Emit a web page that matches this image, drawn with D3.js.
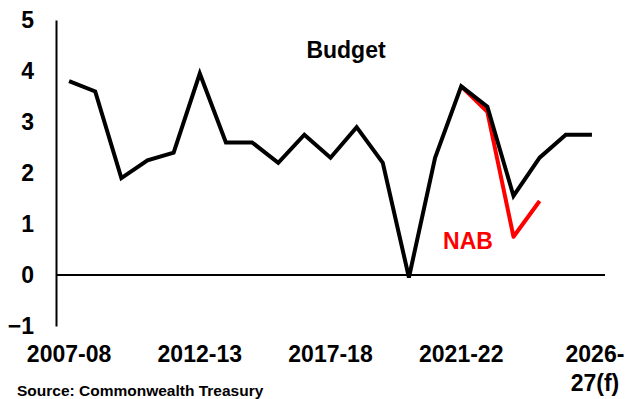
<!DOCTYPE html>
<html>
<head>
<meta charset="utf-8">
<script src="https://cdn.jsdelivr.net/npm/d3@7"></script>
<style>
  html, body { margin: 0; padding: 0; background: #fff; }
  svg { display: block; font-family: "Liberation Sans", Arial, sans-serif; font-weight: bold; }
</style>
</head>
<body>
<svg id="chart" width="631" height="399"></svg>
<script>
// financial years, one per point
var categories = ["2006-07", "2007-08", "2008-09", "2009-10", "2010-11", "2011-12", "2012-13",
    "2013-14", "2014-15", "2015-16", "2016-17", "2017-18", "2018-19", "2019-20", "2020-21",
    "2021-22", "2022-23", "2023-24", "2024-25", "2025-26", "2026-27"];

// real GDP growth, %
var budget = [3.8, 3.6, 1.9, 2.25, 2.4, 3.95, 2.6, 2.6, 2.2, 2.75, 2.3, 2.9, 2.2, -0.05, 2.3,
    3.7, 3.3, 1.55, 2.3, 2.75, 2.75];
var nab = [null, null, null, null, null, null, null, null, null, null, null, null, null, null, null,
    3.7, 3.2, 0.75, 1.45, null, null];

// axis labels as printed on the source chart (every 5th point)
var tickAt = ["2006-07", "2011-12", "2016-17", "2021-22", "2026-27"];
var tickLabels = ["2007-08", "2012-13", "2017-18", "2021-22", "2026-\n27(f)"];
var yTicks = [-1, 0, 1, 2, 3, 4, 5];

var svg = d3.select("#chart");

var x = d3.scaleBand().domain(categories).range([56, 605]);
var y = d3.scaleLinear().domain([-1, 5]).range([326, 20]);
var cx = function(d) { return x(d) + x.bandwidth() / 2; };

// y axis
var yAxis = svg.append("g")
    .attr("transform", "translate(56,0)")
    .call(d3.axisLeft(y).tickValues(yTicks).tickSize(0).tickPadding(22).tickFormat(d3.format("d")));
yAxis.select(".domain").attr("stroke", "#000").attr("stroke-width", 2);
yAxis.selectAll("text").attr("font-size", 23).attr("fill", "#000").attr("font-weight", "bold");

// zero line
svg.append("line")
    .attr("x1", 56).attr("x2", 605)
    .attr("y1", y(0)).attr("y2", y(0))
    .attr("stroke", "#000").attr("stroke-width", 2);

// x labels
var xAxis = svg.append("g")
    .attr("transform", "translate(0,346)")
    .call(d3.axisBottom(x).tickValues(tickAt).tickSize(0).tickPadding(0)
        .tickFormat(function(d) { return tickLabels[tickAt.indexOf(d)]; }));
xAxis.select(".domain").remove();
xAxis.selectAll("text")
    .attr("font-size", 23).attr("fill", "#000").attr("font-weight", "bold")
    .each(function(d) {
        var t = d3.select(this);
        var parts = t.text().split("\n");
        if (parts.length < 2) return;
        t.text(null);
        parts.forEach(function(p, i) {
            t.append("tspan").attr("x", 3).attr("dy", i === 0 ? "0.71em" : "1.24em").text(p);
        });
    });

var line = d3.line()
    .defined(function(d) { return d.v !== null; })
    .x(function(d) { return cx(d.c); })
    .y(function(d) { return y(d.v); });

var nabData = categories.map(function(c, i) { return { c: c, v: nab[i] }; });
var budgetData = categories.map(function(c, i) { return { c: c, v: budget[i] }; });

svg.append("path")
    .datum(nabData)
    .attr("d", line)
    .attr("fill", "none")
    .attr("stroke", "#ff0000")
    .attr("stroke-width", 4)
    .attr("stroke-linejoin", "round");

svg.append("path")
    .datum(budgetData)
    .attr("d", line)
    .attr("fill", "none")
    .attr("stroke", "#000")
    .attr("stroke-width", 4)
    .attr("stroke-linejoin", "miter");

// series labels
svg.append("text")
    .attr("x", 346).attr("y", 58)
    .attr("text-anchor", "middle")
    .attr("font-size", 23)
    .text("Budget");

svg.append("text")
    .attr("x", 468).attr("y", 249)
    .attr("text-anchor", "middle")
    .attr("font-size", 23)
    .attr("fill", "#ff0000")
    .text("NAB");

svg.append("text")
    .attr("x", 17).attr("y", 396)
    .attr("font-size", 15.5)
    .text("Source: Commonwealth Treasury");
</script>
</body>
</html>
